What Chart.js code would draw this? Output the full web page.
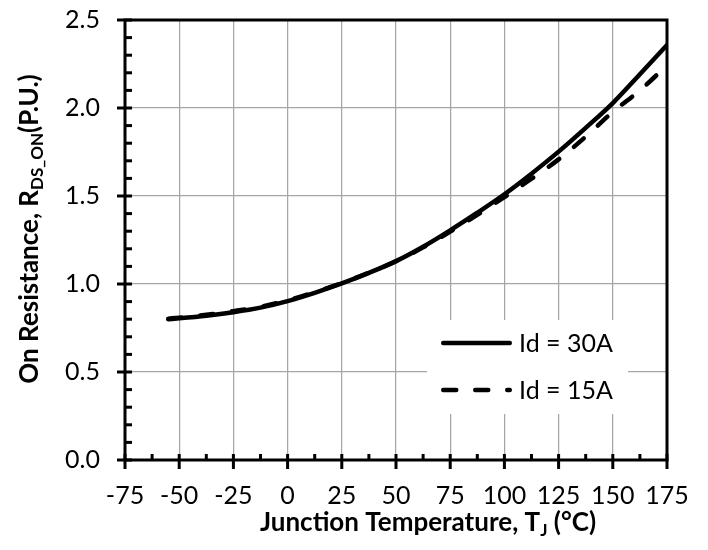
<!DOCTYPE html>
<html>
<head>
<meta charset="utf-8">
<script src="https://cdn.jsdelivr.net/npm/chart.js@4.4.1/dist/chart.umd.min.js"></script>
<style>
  html, body { margin: 0; padding: 0; background: #fff; }
  #wrap { width: 708px; height: 550px; }
</style>
</head>
<body>
<div id="wrap"><canvas id="rdsChart" width="708" height="550"></canvas></div>
<script>
// junction temperature (°C)
const tempC = [-55, -50, -37.5, -25, -12.5, 0, 12.5, 25, 37.5, 50, 62.5, 75, 87.5, 100, 112.5, 125, 137.5, 150, 162.5, 175];
// normalised on-resistance, Id = 30A
const rds30A = [0.800, 0.805, 0.820, 0.840, 0.866, 0.903, 0.950, 1.003, 1.063, 1.130, 1.212, 1.305, 1.405, 1.510, 1.627, 1.752, 1.887, 2.028, 2.192, 2.358];
// normalised on-resistance, Id = 15A
const rds15A = [0.803, 0.809, 0.825, 0.846, 0.871, 0.907, 0.954, 1.005, 1.064, 1.129, 1.208, 1.298, 1.393, 1.494, 1.598, 1.708, 1.837, 1.978, 2.100, 2.242];
const seriesNames = ['Id = 30A', 'Id = 15A'];

const xMin = -75, xMax = 175, xStep = 25, xMinorStep = 12.5;
const yMin = 0, yMax = 2.5, yStep = 0.5, yMinorStep = 0.1;

function toPoints(xs, ys) {
  return xs.map((x, i) => ({ x: x, y: ys[i] }));
}

// draws a row of text pieces (normal + subscript) centred on cx
function drawRuns(ctx, runs, cx, baseline) {
  let total = 0;
  runs.forEach(r => {
    ctx.font = r.font;
    r.w = ctx.measureText(r.text).width;
    total += r.w;
  });
  let x = cx - total / 2;
  runs.forEach(r => {
    ctx.font = r.font;
    ctx.fillText(r.text, x, baseline + (r.dy || 0));
    x += r.w;
  });
}

const TITLE = 'bold 26px Lato';
const SUB = 'bold 17px Lato';

const framePlugin = {
  id: 'frame',
  afterDraw(chart) {
    const { ctx, chartArea: a, scales: { x, y } } = chart;
    ctx.save();

    // tick marks
    ctx.strokeStyle = '#000';
    ctx.lineWidth = 3;
    ctx.lineCap = 'butt';
    const nx = Math.round((xMax - xMin) / xMinorStep);
    for (let i = 0; i <= nx; i++) {
      const v = xMin + i * xMinorStep;
      const px = x.getPixelForValue(v);
      const major = i % 2 === 0;
      ctx.beginPath();
      ctx.moveTo(px, a.bottom - 6);
      ctx.lineTo(px, major ? a.bottom + 9 : a.bottom);
      ctx.stroke();
    }
    const ny = Math.round((yMax - yMin) / yMinorStep);
    for (let i = 0; i <= ny; i++) {
      const v = yMin + i * yMinorStep;
      const py = y.getPixelForValue(v);
      const major = i % 5 === 0;
      ctx.beginPath();
      ctx.moveTo(major ? a.left - 8 : a.left, py);
      ctx.lineTo(a.left + 7, py);
      ctx.stroke();
    }

    // plot box
    ctx.strokeRect(a.left, a.top, a.right - a.left, a.bottom - a.top);

    // legend
    const lx = 427, ly = 320, lw = 201, lh = 94;
    ctx.fillStyle = '#fff';
    ctx.fillRect(lx, ly, lw, lh);
    const rows = [343, 390];
    chart.data.datasets.forEach((ds, i) => {
      const ry = rows[i];
      ctx.strokeStyle = ds.borderColor;
      ctx.lineWidth = ds.borderWidth;
      ctx.lineCap = 'round';
      ctx.setLineDash(ds.borderDash || []);
      ctx.beginPath();
      ctx.moveTo(443.25, ry);
      ctx.lineTo(509.75, ry);
      ctx.stroke();
      ctx.setLineDash([]);
      ctx.fillStyle = '#000';
      ctx.font = '25px Lato';
      ctx.textAlign = 'left';
      ctx.textBaseline = 'middle';
      ctx.fillText(ds.label, 519, ry + 1);
    });

    // axis titles
    ctx.fillStyle = '#000';
    ctx.textAlign = 'left';
    ctx.textBaseline = 'alphabetic';
    drawRuns(ctx, [
      { text: 'Junction Temperature, T', font: TITLE },
      { text: 'J', font: SUB, dy: 5 },
      { text: ' (°C)', font: TITLE }
    ], 428, 531);

    ctx.translate(38, 229);
    ctx.rotate(-Math.PI / 2);
    drawRuns(ctx, [
      { text: 'On Resistance, R', font: TITLE },
      { text: 'DS_ON', font: SUB, dy: 5 },
      { text: '(P.U.)', font: TITLE }
    ], 0, 0);

    ctx.restore();
  }
};

new Chart(document.getElementById('rdsChart'), {
  type: 'line',
  data: {
    datasets: [{
      label: seriesNames[0],
      data: toPoints(tempC, rds30A),
      borderColor: '#000',
      borderWidth: 4.5,
      borderCapStyle: 'round',
      pointRadius: 0,
      cubicInterpolationMode: 'monotone'
    }, {
      label: seriesNames[1],
      data: toPoints(tempC, rds15A),
      borderColor: '#000',
      borderWidth: 4.5,
      borderDash: [13, 19],
      borderCapStyle: 'round',
      pointRadius: 0,
      cubicInterpolationMode: 'monotone'
    }]
  },
  options: {
    responsive: false,
    animation: false,
    devicePixelRatio: 1,
    layout: { padding: { top: 20, right: 41, left: 0, bottom: 0 } },
    plugins: {
      legend: { display: false },
      tooltip: { enabled: false }
    },
    scales: {
      x: {
        type: 'linear',
        min: xMin,
        max: xMax,
        afterFit(scale) {
          scale.height = 90;
          scale.paddingLeft = 0;
          scale.paddingRight = 0;
        },
        ticks: {
          stepSize: xStep,
          padding: 21,
          color: '#000',
          font: { family: 'Lato', size: 25 }
        },
        grid: { color: '#a6a6a6', lineWidth: 1.25, drawTicks: false },
        border: { display: false }
      },
      y: {
        min: yMin,
        max: yMax,
        afterFit(scale) {
          scale.width = 125;
          scale.paddingTop = 0;
          scale.paddingBottom = 0;
        },
        ticks: {
          stepSize: yStep,
          padding: 25,
          color: '#000',
          font: { family: 'Lato', size: 25 },
          callback: v => v.toFixed(1)
        },
        grid: { color: '#a6a6a6', lineWidth: 1.25, drawTicks: false },
        border: { display: false }
      }
    }
  },
  plugins: [framePlugin]
});
</script>
</body>
</html>
